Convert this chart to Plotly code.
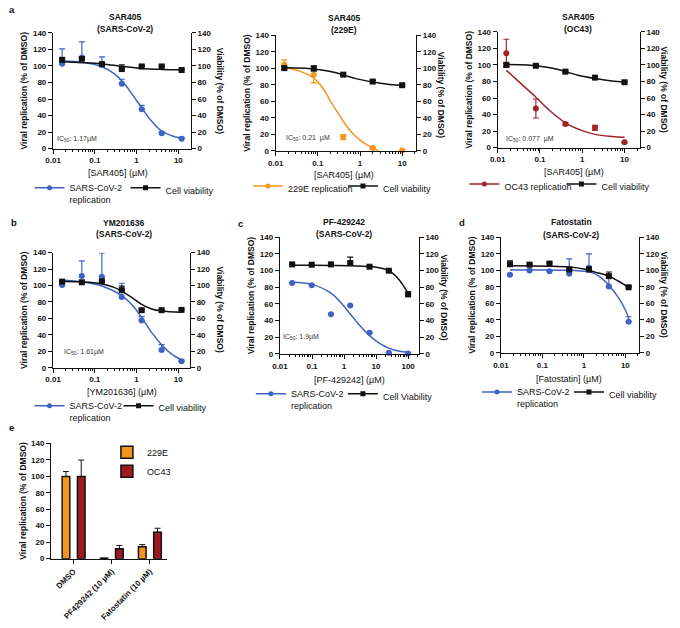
import plotly.graph_objects as go

W, H = 680, 628
BLUE = '#3F63C4'
ORANGE = '#F7941D'
RED = '#A3232B'
BLACK = '#111111'
FONT = 'Liberation Sans, Arial, sans-serif'
FS = 8.5

# ---------------- data ----------------
# a1: SAR405 vs SARS-CoV-2
a1_conc = [0.0165, 0.049, 0.148, 0.444, 1.33, 4.0, 12.0]
a1_rep = [102.6, 110.0, 101.0, 78.4, 47.7, 18.7, 12.0]
a1_rep_err = [18, 19, 10, 5.5, 4.5, 2, 1.5]
a1_via = [107.4, 108.6, 102.2, 96.2, 99.4, 99.4, 95.1]
a1_via_err = [2, 2, 2, 5, 1.5, 1.5, 1]
a1_fit_conc = [0.0165, 0.05, 0.15, 0.3, 0.5, 0.8, 1.3, 2.3, 4.0, 7.0, 12.0]
a1_rep_fit = [106, 104.5, 99, 90, 79, 65, 50, 33, 21, 15.5, 12.5]
a1_via_fit_conc = [0.0165, 0.05, 0.15, 0.45, 1.3, 4.0, 12.0]
a1_via_fit = [105, 104, 102.5, 99.5, 97, 95.8, 95.3]

# a2: SAR405 vs 229E
a2_conc = [0.016, 0.08, 0.4, 2.0, 10.0]
a2_rep = [104.2, 92.3, 16.7, 3.6, 0.4]
a2_rep_err = [6, 10, 3, 1, 0.5]
a2_via = [100.2, 99.8, 92.3, 83.9, 79.5]
a2_via_err = [1.5, 3, 1.5, 1.5, 1]
a2_fit_conc = [0.016, 0.04, 0.08, 0.14, 0.21, 0.3, 0.45, 0.7, 1.0, 1.5, 2.0, 2.8]
a2_rep_fit = [101.5, 96, 88, 74, 58, 46, 32, 20, 13, 7, 3.5, 0]
a2_via_fit_conc = [0.016, 0.05, 0.1, 0.2, 0.4, 0.8, 2.0, 5.0, 10.0]
a2_via_fit = [100.5, 100, 98.5, 96, 92, 87.5, 83.5, 80.5, 79.5]

# a3: SAR405 vs OC43
a3_conc = [0.016, 0.08, 0.4, 2.0, 10.0]
a3_rep = [114.1, 47.3, 28.6, 23.9, 6.4]
a3_rep_err = [17, 11.5, 1.5, 3, 1]
a3_via = [100.2, 99.0, 91.9, 84.7, 79.1]
a3_via_err = [1.5, 1, 1.5, 1, 1]
a3_fit_conc = [0.016, 0.04, 0.08, 0.16, 0.4, 1.0, 2.0, 5.0, 10.0]
a3_rep_fit = [93.5, 75, 61, 46, 30, 20.5, 16, 13.5, 12.5]
a3_via_fit_conc = [0.016, 0.05, 0.1, 0.2, 0.4, 0.8, 2.0, 5.0, 10.0]
a3_via_fit = [100.5, 100, 98.5, 96, 92, 87.5, 83.5, 80.5, 79.5]

# b: YM201636 vs SARS-CoV-2
b_conc = [0.0165, 0.049, 0.148, 0.444, 1.33, 4.0, 12.0]
b_rep = [100.8, 111.6, 110.8, 86.0, 57.6, 21.6, 8.0]
b_rep_err = [2, 18.5, 29, 16.8, 4.5, 6.5, 1.5]
b_via = [104.8, 104.0, 105.2, 94.4, 70.0, 70.0, 70.4]
b_via_err = [1, 1, 1, 5, 1, 1, 1]
b_fit_conc = [0.0165, 0.05, 0.15, 0.45, 0.8, 1.33, 2.3, 4.0, 7.0, 12.0]
b_rep_fit = [106.5, 104.5, 99.5, 87.5, 76, 61, 43, 28, 16.5, 9.5]
b_via_fit_conc = [0.0165, 0.05, 0.15, 0.3, 0.45, 0.8, 1.33, 2.3, 4.0, 12.0]
b_via_fit = [105, 104.5, 102, 97.5, 93, 85, 77, 71.5, 69, 67.5]

# c: PF-429242 vs SARS-CoV-2
c_conc = [0.024, 0.098, 0.39, 1.56, 6.25, 25.0, 100.0]
c_rep = [85.0, 82.5, 47.5, 58.0, 25.5, 1.5, 0.5]
c_rep_err = [0.5, 0.5, 0.5, 0.5, 0.5, 0.5, 0.5]
c_via = [107.5, 107.1, 107.5, 109.1, 104.7, 99.9, 71.4]
c_via_err = [0.5, 0.5, 0.5, 7, 1, 1, 3]
c_fit_conc = [0.024, 0.098, 0.39, 0.78, 1.56, 3.1, 6.25, 12.5, 25.0, 50.0, 100.0]
c_rep_fit = [86, 83.5, 73, 62, 48, 34, 22, 13, 7, 3.5, 2]
c_via_fit_conc = [0.024, 0.1, 0.4, 1.56, 6.25, 12.5, 25.0, 50.0, 100.0]
c_via_fit = [106.5, 106.5, 106.3, 106, 105, 103.5, 100, 90, 73]

# d: Fatostatin vs SARS-CoV-2
d_conc = [0.0165, 0.049, 0.148, 0.444, 1.33, 4.0, 12.0]
d_rep = [94.7, 99.8, 99.0, 95.9, 103.0, 80.3, 37.8]
d_rep_err = [1, 1, 1, 18, 17, 11, 6]
d_via = [107.4, 106.9, 108.2, 101.0, 101.0, 93.0, 79.5]
d_via_err = [4, 2, 2, 2, 3, 5, 1]
d_fit_conc = [0.0165, 0.05, 0.15, 0.45, 1.0, 1.5, 2.3, 4.0, 7.0, 10.0, 12.0]
d_rep_fit = [100.5, 100.5, 100.3, 100, 99, 97.5, 93, 82, 66, 52, 42]
d_via_fit_conc = [0.0165, 0.15, 0.45, 1.0, 2.0, 4.0, 7.0, 12.0]
d_via_fit = [105.5, 105, 104, 101.5, 97.5, 93, 86.5, 79.5]

# e: bars
e_categories = ['DMSO', 'PF429242 (10 \u00b5M)', 'Fatostatin (10 \u00b5M)']
e_229e = [99.7, 0.5, 14.4]
e_229e_err = [6, 0, 2.6]
e_oc43 = [99.7, 12.0, 31.9]
e_oc43_err = [20, 4, 5]

x_tick_vals = [0.01, 0.1, 1, 10]
x_tick_text = ['0.01', '0.1', '1', '10']
x_tick_vals_c = [0.01, 0.1, 1, 10, 100]
x_tick_text_c = ['0.01', '0.1', '1', '10', '100']
y_ticks = [0, 20, 40, 60, 80, 100, 120, 140]

# ---------------- layout helpers ----------------
fig = go.Figure()
lay = dict(width=W, height=H, margin=dict(l=0, r=0, t=0, b=0),
           paper_bgcolor='white', plot_bgcolor='white',
           font=dict(family=FONT, size=FS, color=BLACK))
annotations = []


def X(p):
    return p / W


def Y(p):
    return 1 - p / H


def ann(text, x, y, size=FS, bold=False, angle=0, xanchor='center', yanchor='middle', color=BLACK):
    annotations.append(dict(text=text, x=X(x), y=Y(y), xref='paper', yref='paper',
                            showarrow=False, xanchor=xanchor, yanchor=yanchor,
                            textangle=angle,
                            font=dict(family=FONT, size=size, color=color,
                                      weight=700 if bold else 400)))


minor_vals = [m * 10 ** e for e in range(-2, 3) for m in range(2, 10)]

axis_common = dict(showline=True, linecolor=BLACK, linewidth=1.3, ticks='outside',
                   ticklen=4, tickwidth=1.3, tickcolor=BLACK, showgrid=False,
                   zeroline=False, tickfont=dict(family=FONT, size=8, weight=700, color=BLACK))
LEFT_TITLE = dict(text='Viral replication (% of DMSO)', standoff=3,
                  font=dict(family=FONT, size=FS, weight=700, color=BLACK))

panels = [
    dict(conc=a1_conc, rep=a1_rep, rep_err=a1_rep_err, via=a1_via, via_err=a1_via_err,
         fc=a1_fit_conc, rf=a1_rep_fit, vfc=a1_via_fit_conc, vf=a1_via_fit, color=BLUE,
         sym=False, geo=(46, 186.7, 29.3, 146.7), xr=[-2, 1.3], tv=x_tick_vals, tt=x_tick_text,
         title=('SAR405', '(SARS-CoV-2)'), tpos=(119, 12.7, 25), xt='[SAR405] (\u00b5M)', xtpos=(112, 171.5),
         ic='IC<sub>50</sub>: 1.17\u00b5M', icpos=(48, 136.5),
         rt=(216.5, 88),
         leg=(22, 174), names=('SARS-CoV-2<br>replication', 'Cell viability'), ew=51),
    dict(conc=a2_conc, rep=a2_rep, rep_err=a2_rep_err, via=a2_via, via_err=a2_via_err,
         fc=a2_fit_conc, rf=a2_rep_fit, vfc=a2_via_fit_conc, vf=a2_via_fit, color=ORANGE,
         sym=True, geo=(273.3, 416.7, 31.7, 149), xr=[-2, 1.33], tv=x_tick_vals, tt=x_tick_text,
         title=('SAR405', '(229E)'), tpos=(343.3, 14, 26.5), xt='[SAR405] (\u00b5M)', xtpos=(343.3, 173.3),
         ic='IC<sub>50</sub>: 0.21  \u00b5M', icpos=(281.7, 136),
         rt=(442, 92),
         leg=(245, 172), names=('229E replication', 'Cell viability'), ew=50),
    dict(conc=a3_conc, rep=a3_rep, rep_err=a3_rep_err, via=a3_via, via_err=a3_via_err,
         fc=a3_fit_conc, rf=a3_rep_fit, vfc=a3_via_fit_conc, vf=a3_via_fit, color=RED,
         sym=True, geo=(500, 645, 28.3, 145.7), xr=[-2, 1.36], tv=x_tick_vals, tt=x_tick_text,
         title=('SAR405', '(OC43)'), tpos=(581.7, 13, 25), xt='[SAR405] (\u00b5M)', xtpos=(578.3, 170),
         ic='IC<sub>50</sub>: 0.077  \u00b5M', icpos=(506.7, 136.7),
         rt=(670, 87),
         leg=(466, 170), names=('OC43 replication', 'Cell viability'), ew=52),
    dict(conc=b_conc, rep=b_rep, rep_err=b_rep_err, via=b_via, via_err=b_via_err,
         fc=b_fit_conc, rf=b_rep_fit, vfc=b_via_fit_conc, vf=b_via_fit, color=BLUE,
         sym=False, geo=(46, 185.7, 252.3, 369), xr=[-2, 1.28], tv=x_tick_vals, tt=x_tick_text,
         title=('YM201636', '(SARS-CoV-2)'), tpos=(118.3, 221.7, 233.3), xt='[YM201636] (\u00b5M)', xtpos=(116.7, 393.3),
         ic='IC<sub>50</sub>: 1.61\u00b5M', icpos=(55, 353.3),
         rt=(216.5, 310),
         leg=(22, 395), names=('SARS-CoV-2<br>replication', 'Cell viability'), ew=44),
    dict(conc=c_conc, rep=c_rep, rep_err=c_rep_err, via=c_via, via_err=c_via_err,
         fc=c_fit_conc, rf=c_rep_fit, vfc=c_via_fit_conc, vf=c_via_fit, color=BLUE,
         sym=False, geo=(277.7, 419.3, 236.7, 355), xr=[-2, 2.33], tv=x_tick_vals_c, tt=x_tick_text_c,
         title=('PF-429242', '(SARS-CoV-2)'), tpos=(343.3, 220.7, 233.3), xt='[PF-429242] (\u00b5M)', xtpos=(348.3, 381.7),
         ic='IC<sub>50</sub>: 1.9\u00b5M', icpos=(278.3, 338.3),
         rt=(445, 297.5),
         leg=(248, 383), names=('SARS-CoV-2<br>replication', 'Cell Viability'), ew=47),
    dict(conc=d_conc, rep=d_rep, rep_err=d_rep_err, via=d_via, via_err=d_via_err,
         fc=d_fit_conc, rf=d_rep_fit, vfc=d_via_fit_conc, vf=d_via_fit, color=BLUE,
         sym=False, geo=(503.3, 644.3, 236.7, 354), xr=[-2, 1.33], tv=x_tick_vals, tt=x_tick_text,
         title=('Fatostatin', '(SARS-CoV-2)'), tpos=(575, 220.7, 234.3), xt='[Fatostatin] (\u00b5M)', xtpos=(573.3, 380),
         ic=None, icpos=None,
         rt=(670, 295),
         leg=(479, 381), names=('SARS-CoV-2<br>replication', 'Cell viability'), ew=47),
]

for k, p in enumerate(panels, start=1):
    xa, ya, ya2 = f'x{k}', f'y{k}', f'y{k + 6}'
    lg = 'legend' if k == 1 else f'legend{k}'
    x0, x1, y0, y1 = p['geo']
    lay[f'xaxis{k}'] = dict(axis_common, type='log', domain=[X(x0), X(x1)], range=p['xr'], anchor=ya,
                            tickmode='array', tickvals=p['tv'], ticktext=p['tt'],
                            minor=dict(tickmode='array', tickvals=minor_vals, ticks='outside',
                                       ticklen=2, tickwidth=1, tickcolor=BLACK))
    lay[f'yaxis{k}'] = dict(axis_common, domain=[Y(y1), Y(y0)], range=[0, 140], anchor=xa,
                            tickmode='array', tickvals=y_ticks, title=LEFT_TITLE)
    lay[f'yaxis{k + 6}'] = dict(axis_common, range=[0, 140], anchor=xa, overlaying=ya, side='right',
                                tickmode='array', tickvals=y_ticks)
    if p['sym']:
        err_r = dict(type='data', array=p['rep_err'], visible=True, color=p['color'], thickness=1.2, width=3)
        err_v = dict(type='data', array=p['via_err'], visible=True, color=BLACK, thickness=1.2, width=3)
    else:
        err_r = dict(type='data', array=p['rep_err'], arrayminus=[0] * len(p['rep_err']), symmetric=False,
                     visible=True, color=p['color'], thickness=1.2, width=3)
        err_v = dict(type='data', array=p['via_err'], arrayminus=[0] * len(p['via_err']), symmetric=False,
                     visible=True, color=BLACK, thickness=1.2, width=3)
    # replication
    fig.add_trace(go.Scatter(x=p['fc'], y=p['rf'], mode='lines', line=dict(color=p['color'], width=1.5, shape='spline'),
                             xaxis=xa, yaxis=ya, showlegend=False, hoverinfo='skip'))
    fig.add_trace(go.Scatter(x=p['conc'], y=p['rep'], mode='markers', error_y=err_r,
                             marker=dict(color=p['color'], size=6, symbol='circle'),
                             xaxis=xa, yaxis=ya, showlegend=False, cliponaxis=False))
    # viability
    fig.add_trace(go.Scatter(x=p['vfc'], y=p['vf'], mode='lines', line=dict(color=BLACK, width=1.5, shape='spline'),
                             xaxis=xa, yaxis=ya2, showlegend=False, hoverinfo='skip'))
    fig.add_trace(go.Scatter(x=p['conc'], y=p['via'], mode='markers', error_y=err_v,
                             marker=dict(color=BLACK, size=6, symbol='square'),
                             xaxis=xa, yaxis=ya2, showlegend=False, cliponaxis=False))
    # legend entries
    fig.add_trace(go.Scatter(x=[None], y=[None], mode='lines+markers', name=p['names'][0],
                             line=dict(color=p['color'], width=1.5), marker=dict(color=p['color'], size=5),
                             xaxis=xa, yaxis=ya, legend=lg, legendwidth=p['ew']))
    fig.add_trace(go.Scatter(x=[None], y=[None], mode='lines+markers', name=p['names'][1],
                             line=dict(color=BLACK, width=1.5), marker=dict(color=BLACK, size=5, symbol='square'),
                             xaxis=xa, yaxis=ya2, legend=lg, legendwidth=66))
    lay[lg] = dict(x=X(p['leg'][0]), y=Y(p['leg'][1]), xanchor='left', yanchor='top', orientation='h',
                   xref='paper', yref='paper', bgcolor='rgba(0,0,0,0)', itemwidth=30, valign='top',
                   font=dict(family=FONT, size=9, color=BLACK), tracegroupgap=0)
    # texts
    ann(p['title'][0], p['tpos'][0], p['tpos'][1], bold=True)
    ann(p['title'][1], p['tpos'][0], p['tpos'][2], bold=True)
    ann(p['xt'], p['xtpos'][0], p['xtpos'][1], size=9)
    if p['ic']:
        ann(p['ic'], p['icpos'][0], p['icpos'][1], size=7, xanchor='left', color='#333333')
    ann('Viability (% of DMSO)', p['rt'][0], p['rt'][1], bold=True, angle=90)

# ---------------- panel e ----------------
lay['xaxis7'] = dict(axis_common, domain=[X(44), X(162)], anchor='y13', type='category',
                     range=[-0.59, 2.44], tickangle=-45)
lay['yaxis13'] = dict(axis_common, domain=[Y(562.7), Y(445.7)], range=[0, 140], anchor='x7',
                      tickmode='array', tickvals=y_ticks, title=LEFT_TITLE)
fig.add_trace(go.Bar(x=e_categories, y=e_229e, name='229E', xaxis='x7', yaxis='y13',
                     marker=dict(color=ORANGE, line=dict(color=BLACK, width=1.5)),
                     error_y=dict(type='data', array=e_229e_err, arrayminus=[0, 0, 0], symmetric=False,
                                  color=BLACK, thickness=1, width=3),
                     legend='legend7'))
fig.add_trace(go.Bar(x=e_categories, y=e_oc43, name='OC43', xaxis='x7', yaxis='y13',
                     marker=dict(color='#9B1B20', line=dict(color=BLACK, width=1.5)),
                     error_y=dict(type='data', array=e_oc43_err, arrayminus=[0, 0, 0], symmetric=False,
                                  color=BLACK, thickness=1, width=3),
                     legend='legend7'))
lay['barmode'] = 'group'
lay['bargap'] = 0.2
lay['bargroupgap'] = 0.5
lay['legend7'] = dict(x=X(101), y=Y(440), xanchor='left', yanchor='top', orientation='v',
                      bgcolor='rgba(0,0,0,0)', font=dict(family=FONT, size=9, color=BLACK),
                      tracegroupgap=0, traceorder='normal')

# panel letters
for letter, lx, ly in [('a', 4, 6), ('b', 6, 221.7), ('c', 237.7, 222.7), ('d', 463.3, 221.7), ('e', 4, 430)]:
    ann(letter, lx, ly, size=9.5, bold=True)

lay['annotations'] = annotations
fig.update_layout(**lay)
fig.write_html('out.html', config={'displayModeBar': False},
               post_script="document.body.style.margin='0';document.body.style.padding='0';")
